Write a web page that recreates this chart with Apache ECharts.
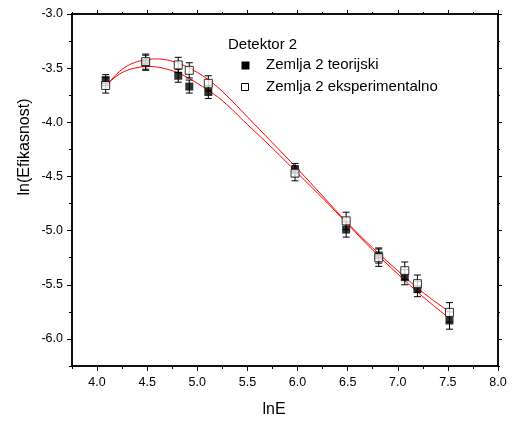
<!DOCTYPE html>
<html>
<head>
<meta charset="utf-8">
<script src="https://cdn.jsdelivr.net/npm/echarts@6/dist/echarts.min.js"></script>
<style>
html,body{margin:0;padding:0;background:#fff;}
#chart{width:512px;height:423px;}
</style>
</head>
<body>
<div id="chart"></div>
<script>
// ---- data ----
const lnE = [4.086, 4.485, 4.81, 4.92, 5.11, 5.975, 6.485, 6.81, 7.07, 7.196, 7.516];
const teorijski = [-3.61, -3.45, -3.57, -3.67, -3.72, -4.44, -4.99, -5.23, -5.43, -5.54, -5.83];
const teorijskiErr = [0.05, 0.07, 0.06, 0.06, 0.06, 0.06, 0.07, 0.07, 0.07, 0.07, 0.08];
const eksperimentalno = [-3.66, -3.44, -3.47, -3.52, -3.64, -4.47, -4.91, -5.25, -5.37, -5.49, -5.755];
const eksperimentalnoErr = [0.07, 0.07, 0.07, 0.07, 0.07, 0.07, 0.08, 0.08, 0.08, 0.08, 0.09];

const fitX = [4.086, 4.2, 4.3, 4.4, 4.5, 4.6, 4.7, 4.8, 4.9, 5.0, 5.1, 5.25, 5.5, 5.75, 6.0, 6.25, 6.5, 6.75, 7.0, 7.25, 7.516];
const fitEksperimentalno = [-3.67, -3.55, -3.48, -3.44, -3.42, -3.415, -3.425, -3.45, -3.49, -3.54, -3.60, -3.715, -3.95, -4.19, -4.43, -4.68, -4.93, -5.16, -5.37, -5.57, -5.75];
const fitTeorijski = [-3.66, -3.57, -3.52, -3.495, -3.485, -3.49, -3.51, -3.54, -3.585, -3.64, -3.70, -3.80, -4.02, -4.24, -4.47, -4.70, -4.94, -5.18, -5.40, -5.61, -5.81];

const xMajorTicks = [4.0, 4.5, 5.0, 5.5, 6.0, 6.5, 7.0, 7.5, 8.0];
const xMinorTicks = [3.75, 4.25, 4.75, 5.25, 5.75, 6.25, 6.75, 7.25, 7.75];
const yMajorTicks = [-6.0, -5.5, -5.0, -4.5, -4.0, -3.5, -3.0];
const yMinorTicks = [-6.25, -5.75, -5.25, -4.75, -4.25, -3.75, -3.25];

const legendTitle = 'Detektor 2';
const nameTeor = 'Zemlja 2 teorijski';
const nameEksp = 'Zemlja 2 eksperimentalno';
const xName = 'lnE';
const yName = 'ln(Efikasnost)';

// ---- build ----
const FONT = '"Liberation Sans", Arial, sans-serif';
const zip = (a, b) => a.map((v, i) => [v, b[i]]);
const errData = (ys, es) => lnE.map((x, i) => [x, ys[i], es[i]]);

function errorBar(params, api) {
  const x = api.value(0), y = api.value(1), e = api.value(2);
  const top = api.coord([x, y + e]);
  const bot = api.coord([x, y - e]);
  const hw = 3.5;
  const st = {stroke: '#000', lineWidth: 1};
  return {
    type: 'group',
    children: [
      {type: 'line', shape: {x1: top[0], y1: top[1], x2: bot[0], y2: bot[1]}, style: st},
      {type: 'line', shape: {x1: top[0] - hw, y1: top[1], x2: top[0] + hw, y2: top[1]}, style: st},
      {type: 'line', shape: {x1: bot[0] - hw, y1: bot[1], x2: bot[0] + hw, y2: bot[1]}, style: st}
    ]
  };
}

const axisLineStyle = {color: '#000', width: 1.5};
const xMin = 3.75, xMax = 8.0, yMin = -6.25, yMax = -3.0;

function xAx(pos, ticks, len, labels) {
  return {
    type: 'value', position: pos, min: xMin, max: xMax, interval: 0.25,
    axisLine: {show: true, onZero: false, lineStyle: axisLineStyle},
    axisTick: {show: true, inside: false, length: len, customValues: ticks, lineStyle: {color: '#000', width: 1}},
    axisLabel: labels ? {show: true, customValues: xMajorTicks, margin: 10, color: '#000', fontSize: 12.5, fontFamily: FONT,
      formatter: v => v.toFixed(1)} : {show: false},
    splitLine: {show: false}
  };
}
function yAx(pos, ticks, len, labels) {
  return {
    type: 'value', position: pos, min: yMin, max: yMax, interval: 0.25,
    axisLine: {show: true, onZero: false, lineStyle: axisLineStyle},
    axisTick: {show: true, inside: false, length: len, customValues: ticks, lineStyle: {color: '#000', width: 1}},
    axisLabel: labels ? {show: true, customValues: yMajorTicks, margin: 9, color: '#000', fontSize: 12.5, fontFamily: FONT,
      formatter: v => v.toFixed(1)} : {show: false},
    splitLine: {show: false}
  };
}

const chart = echarts.init(document.getElementById('chart'), null, {renderer: 'canvas'});
chart.setOption({
  backgroundColor: '#fff',
  animation: false,
  grid: {left: 72, right: 14, top: 14, bottom: 57},
  xAxis: [
    xAx('bottom', xMajorTicks, 5, true),
    xAx('bottom', xMinorTicks, 3, false),
    xAx('top', xMajorTicks, 4, false),
    xAx('top', xMinorTicks, 2, false)
  ],
  yAxis: [
    yAx('left', yMajorTicks, 5, true),
    yAx('left', yMinorTicks, 3, false),
    yAx('right', yMajorTicks, 4, false),
    yAx('right', yMinorTicks, 2, false)
  ],
  series: [
    {type: 'line', name: 'fitT', data: zip(fitX, fitTeorijski), smooth: 0.4, showSymbol: false,
      lineStyle: {color: '#ff0000', width: 1}, z: 2, silent: true},
    {type: 'line', name: 'fitE', data: zip(fitX, fitEksperimentalno), smooth: 0.4, showSymbol: false,
      lineStyle: {color: '#ff0000', width: 1}, z: 2, silent: true},
    {type: 'custom', name: 'errT', data: errData(teorijski, teorijskiErr), renderItem: errorBar, z: 3},
    {type: 'custom', name: 'errE', data: errData(eksperimentalno, eksperimentalnoErr), renderItem: errorBar, z: 3},
    {type: 'scatter', name: nameTeor, data: zip(lnE, teorijski), symbol: 'rect', symbolSize: 8,
      itemStyle: {color: '#000'}, z: 4},
    {type: 'scatter', name: nameEksp, data: zip(lnE, eksperimentalno), symbol: 'rect', symbolSize: 8,
      itemStyle: {color: '#fff', borderColor: '#000', borderWidth: 1}, z: 5}
  ],
  graphic: [
    {type: 'text', left: 228, top: 37, style: {text: legendTitle, font: '15px ' + FONT, fill: '#000'}},
    {type: 'rect', shape: {x: 241.5, y: 61.5, width: 8, height: 8}, style: {fill: '#000'}},
    {type: 'text', left: 266, top: 57, style: {text: nameTeor, font: '15px ' + FONT, fill: '#000'}},
    {type: 'rect', shape: {x: 241.5, y: 83.5, width: 7, height: 7}, style: {fill: '#fff', stroke: '#000', lineWidth: 1}},
    {type: 'text', left: 266, top: 79, style: {text: nameEksp, font: '15px ' + FONT, fill: '#000'}},
    {type: 'text', x: 274, y: 410, style: {text: xName, font: '16px ' + FONT, fill: '#000', align: 'center', verticalAlign: 'middle'}},
    {type: 'text', x: 25, y: 147, rotation: Math.PI / 2,
      style: {text: yName, font: '16px ' + FONT, fill: '#000', align: 'center', verticalAlign: 'middle'}}
  ]
});
</script>
</body>
</html>
